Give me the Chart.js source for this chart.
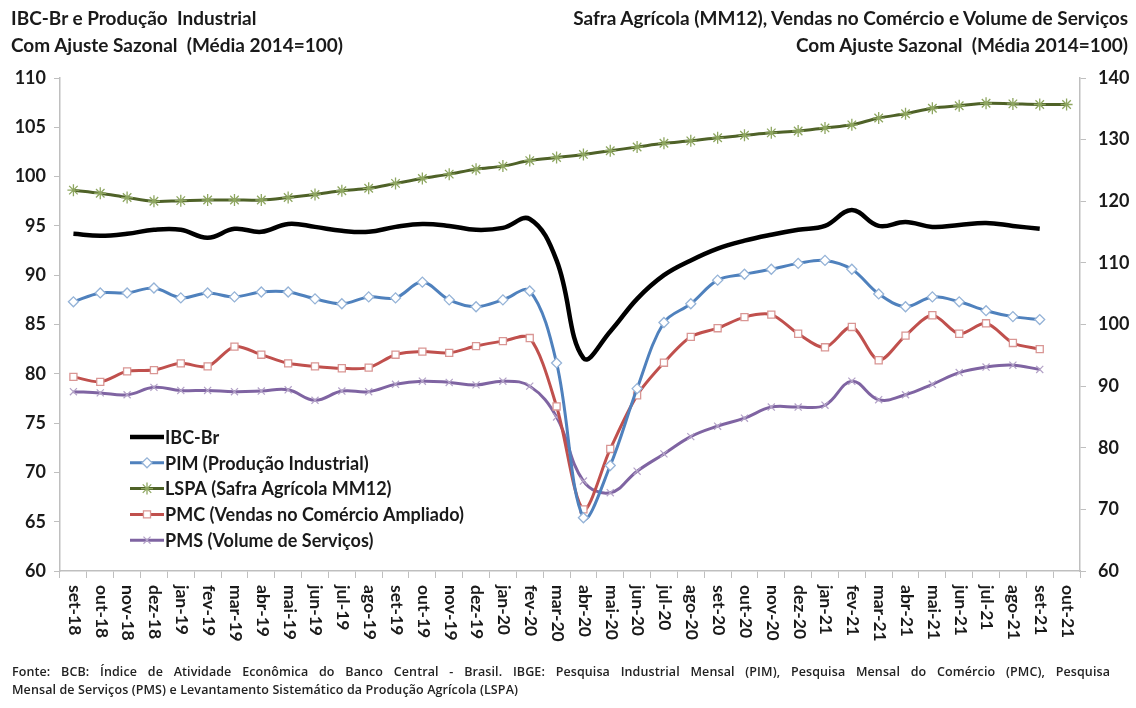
<!DOCTYPE html>
<html lang="pt-BR">
<head>
<meta charset="utf-8">
<script src="https://cdn.jsdelivr.net/npm/chart.js@4"></script>
<style>
  body { margin: 0; background: #fff; }
  #wrap { position: relative; width: 1136px; height: 708px; font-family: Lato, "Open Sans", sans-serif; color: #1a1a1a; }
  #chart { position: absolute; left: 0; top: 0; }
  .t { position: absolute; font-weight: 700; font-size: 19px; line-height: 22px; white-space: nowrap; }
  .foot { position: absolute; left: 12px; font-family: "Open Sans", sans-serif; font-weight: 600; font-size: 12.5px; letter-spacing: 0.1px; line-height: 14px; white-space: nowrap; color: #222; }
  .just { width: 1098px; text-align: justify; text-align-last: justify; white-space: normal; }
</style>
</head>
<body>
<div id="wrap">
  <canvas id="chart" width="1136" height="708"></canvas>
  <div class="t" style="left:11px;top:7px">IBC-Br e Produção&nbsp; Industrial</div>
  <div class="t" style="left:11px;top:34px">Com Ajuste Sazonal&nbsp; (Média 2014=100)</div>
  <div class="t" style="right:8px;top:7px">Safra Agrícola (MM12), Vendas no Comércio e Volume de Serviços</div>
  <div class="t" style="right:8px;top:34px">Com Ajuste Sazonal&nbsp; (Média 2014=100)</div>
  <div class="foot just" style="top:665px">Fonte: BCB: Índice de Atividade Econômica do Banco Central - Brasil. IBGE: Pesquisa Industrial Mensal (PIM), Pesquisa Mensal do Comércio (PMC), Pesquisa</div>
  <div class="foot" style="top:683px">Mensal de Serviços (PMS) e Levantamento Sistemático da Produção Agrícola (LSPA)</div>
</div>
<script>
// meses (set-18 a out-21)
const months = ["set-18", "out-18", "nov-18", "dez-18",
    "jan-19", "fev-19", "mar-19", "abr-19", "mai-19", "jun-19", "jul-19", "ago-19", "set-19", "out-19", "nov-19", "dez-19",
    "jan-20", "fev-20", "mar-20", "abr-20", "mai-20", "jun-20", "jul-20", "ago-20", "set-20", "out-20", "nov-20", "dez-20",
    "jan-21", "fev-21", "mar-21", "abr-21", "mai-21", "jun-21", "jul-21", "ago-21", "set-21", "out-21"];

// eixo esquerdo
const ibcBr = [94.2, 94.0, 94.2, 94.6, 94.6, 93.8, 94.7, 94.4, 95.2, 94.9, 94.5, 94.4, 94.9, 95.2, 95.0, 94.6,
    94.8, 95.7, 91.5, 81.6, 84.3, 87.6, 90.0, 91.5, 92.7, 93.5, 94.1, 94.6,
    95.0, 96.6, 95.0, 95.4, 94.9, 95.1, 95.3, 95.0, 94.7];
const pim = [87.3, 88.2, 88.2, 88.7, 87.7, 88.2, 87.8, 88.3, 88.3, 87.6, 87.1, 87.8, 87.7, 89.3, 87.5, 86.8,
    87.5, 88.4, 81.1, 65.4, 70.7, 78.5, 85.2, 87.1, 89.5, 90.1, 90.6, 91.2,
    91.5, 90.6, 88.1, 86.8, 87.8, 87.3, 86.4, 85.8, 85.5];

// eixo direito
const lspa = [121.8, 121.3, 120.6, 120.0, 120.1, 120.2, 120.2, 120.2, 120.6, 121.1, 121.7, 122.1, 122.9, 123.7, 124.4, 125.2,
    125.7, 126.6, 127.1, 127.6, 128.2, 128.8, 129.4, 129.8, 130.3, 130.7, 131.1, 131.4,
    131.9, 132.4, 133.5, 134.2, 135.1, 135.5, 135.9, 135.8, 135.7, 135.7];
const pmc = [91.5, 90.7, 92.4, 92.6, 93.7, 93.2, 96.4, 95.1, 93.7, 93.2, 92.9, 93.0, 95.1, 95.6, 95.4, 96.5,
    97.3, 97.8, 86.7, 70.0, 79.8, 88.5, 93.8, 98.0, 99.4, 101.2, 101.6, 98.5,
    96.3, 99.6, 94.2, 98.2, 101.5, 98.5, 100.2, 97.0, 96.0];
const pms = [89.1, 88.9, 88.6, 89.8, 89.3, 89.3, 89.1, 89.2, 89.4, 87.7, 89.2, 89.1, 90.3, 90.8, 90.6, 90.2,
    90.8, 90.0, 85.0, 74.6, 72.7, 76.2, 79.0, 81.8, 83.5, 84.8, 86.6, 86.6,
    86.9, 90.8, 87.8, 88.6, 90.3, 92.2, 93.1, 93.4, 92.7];

const leftMin = 60, leftMax = 110, leftStep = 5;
const rightMin = 60, rightMax = 140, rightStep = 10;

const labelFont = "Lato, 'Open Sans', sans-serif";
const axisGray = "#bfbfbf";

// rótulos do eixo x girados para baixo
const monthLabels = {
    id: "monthLabels",
    afterDraw(chart) {
        const ctx = chart.ctx;
        const x = chart.scales.x;
        ctx.save();
        ctx.font = "bold 17.5px " + labelFont;
        ctx.fillStyle = "#1a1a1a";
        ctx.textAlign = "left";
        ctx.textBaseline = "middle";
        months.forEach((m, i) => {
            ctx.save();
            ctx.translate(x.getPixelForValue(i) + 1, x.bottom + 7);
            ctx.rotate(Math.PI / 2);
            ctx.fillText(m, 0, 0);
            ctx.restore();
        });
        ctx.restore();
    }
};

// legenda dentro da área do gráfico
const innerLegend = {
    id: "innerLegend",
    afterDraw(chart) {
        const ctx = chart.ctx;
        const area = chart.chartArea;
        const x0 = area.left + 70;
        ctx.save();
        ctx.font = "bold 18px " + labelFont;
        ctx.textBaseline = "middle";
        chart.data.datasets.forEach((ds, i) => {
            const y = area.top + 359 + i * 25.8;
            ctx.strokeStyle = ds.borderColor;
            ctx.lineWidth = ds.borderWidth;
            ctx.beginPath();
            ctx.moveTo(x0, y);
            ctx.lineTo(x0 + 34, y);
            ctx.stroke();
            if (ds.pointRadius > 0) {
                ctx.fillStyle = ds.pointBackgroundColor;
                ctx.strokeStyle = ds.pointBorderColor;
                ctx.lineWidth = ds.pointBorderWidth;
                Chart.helpers.drawPoint(ctx, {
                    pointStyle: ds.pointStyle, radius: ds.pointRadius,
                    borderWidth: ds.pointBorderWidth, rotation: 0
                }, x0 + 17, y);
            }
            ctx.fillStyle = "#1a1a1a";
            ctx.fillText(ds.label, x0 + 35, y + 1);
        });
        ctx.restore();
    }
};

new Chart(document.getElementById("chart"), {
    type: "line",
    data: {
        labels: months,
        datasets: [
            {
                label: "IBC-Br", data: ibcBr, yAxisID: "y",
                borderColor: "#000000", borderWidth: 4.5, tension: 0.4,
                pointRadius: 0
            },
            {
                label: "PIM (Produção Industrial)", data: pim, yAxisID: "y",
                borderColor: "#4f81bd", borderWidth: 3, tension: 0.35,
                pointStyle: "rectRot", pointRadius: 5, pointBorderWidth: 1.3,
                pointBackgroundColor: "#ffffff", pointBorderColor: "#95b3d7"
            },
            {
                label: "LSPA (Safra Agrícola MM12)", data: lspa, yAxisID: "y2",
                borderColor: "#4f6228", borderWidth: 3, tension: 0.35,
                pointStyle: "star", pointRadius: 6, pointBorderWidth: 1.3,
                pointBackgroundColor: "#9bbb59", pointBorderColor: "#8ea660"
            },
            {
                label: "PMC (Vendas no Comércio Ampliado)", data: pmc, yAxisID: "y2",
                borderColor: "#c0504d", borderWidth: 3, tension: 0.3,
                pointStyle: "rect", pointRadius: 5, pointBorderWidth: 1.3,
                pointBackgroundColor: "#ffffff", pointBorderColor: "#d99694"
            },
            {
                label: "PMS (Volume de Serviços)", data: pms, yAxisID: "y2",
                borderColor: "#7f64a2", borderWidth: 3, tension: 0.4,
                pointStyle: "crossRot", pointRadius: 5, pointBorderWidth: 1.2,
                pointBackgroundColor: "#b3a2c7", pointBorderColor: "#b3a2c7"
            }
        ]
    },
    options: {
        responsive: false,
        animation: false,
        layout: { padding: { top: 78, bottom: 130, left: 0, right: 0 } },
        plugins: {
            legend: { display: false },
            tooltip: { enabled: false }
        },
        scales: {
            x: {
                offset: true,
                grid: { offset: true, drawOnChartArea: false, drawTicks: true, tickLength: 7, color: axisGray },
                border: { color: axisGray, width: 1.5 },
                ticks: { display: false }
            },
            y: {
                position: "left",
                min: leftMin, max: leftMax,
                afterFit: s => { s.width = 60; },
                grid: { drawOnChartArea: false, tickLength: 6, color: axisGray },
                border: { color: axisGray, width: 1.5 },
                ticks: {
                    stepSize: leftStep, padding: 8, color: "#1a1a1a",
                    font: { family: labelFont, size: 18, weight: "bold" }
                }
            },
            y2: {
                position: "right",
                min: rightMin, max: rightMax,
                afterFit: s => { s.width = 56; },
                grid: { drawOnChartArea: false, tickLength: 6, color: axisGray },
                border: { color: axisGray, width: 1.5 },
                ticks: {
                    stepSize: rightStep, padding: 12, color: "#1a1a1a",
                    font: { family: labelFont, size: 18, weight: "bold" }
                }
            }
        }
    },
    plugins: [monthLabels, innerLegend]
});
</script>
</body>
</html>
